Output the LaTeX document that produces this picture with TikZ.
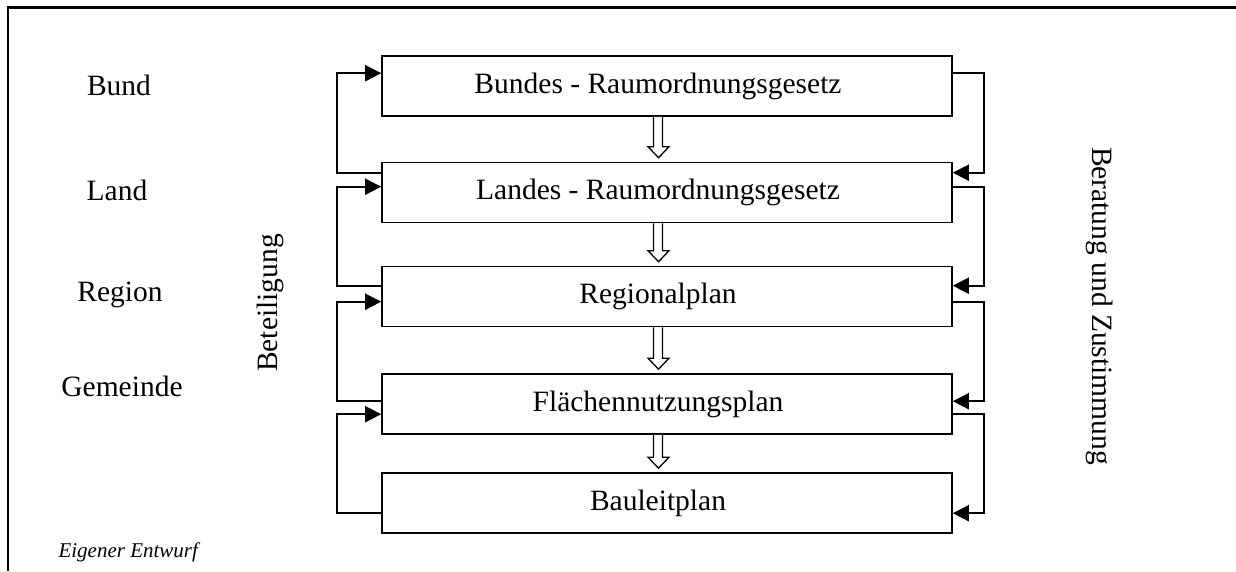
\documentclass[tikz,border=0pt]{standalone}
\usepackage{fontspec}
\setmainfont{Liberation Serif}
\usetikzlibrary{arrows.meta,calc}
\tikzset{
  box/.style={draw,line width=1.6pt,minimum width=570pt,minimum height=60pt,inner sep=0pt,font=\fontsize{29.5}{34}\selectfont,execute at end node={\hspace*{18pt}}},
  lvl/.style={font=\fontsize{29.5}{34}\selectfont},
  conn/.style={line width=1.9pt,-{Triangle[length=16pt,width=16pt]}},
  hollow/.style={line width=1.3pt,fill=white,line join=miter},
  frame/.style={line width=2.8pt}
}
\newcommand\hollowarrow[2]{%
  \draw[hollow] ($(#1.south)+(-13.5,0)$) -- ($(#2.north)+(-13.5,-15)$) -- ($(#2.north)+(-19,-15)$) -- ($(#2.north)+(-8.5,-4)$) -- ($(#2.north)+(2,-15)$) -- ($(#2.north)+(-4.5,-15)$) -- ($(#1.south)+(-4.5,0)$);}
\begin{document}
\begin{tikzpicture}[x=1pt,y=-1pt]
\useasboundingbox (0,0) rectangle (1236,571);
\coordinate (fa) at (8,571);
\coordinate (fb) at (8,7.5);
\coordinate (fc) at (1236,7.5);
\draw[frame] (fa) -- (fb) -- (fc);

\node[box] (b1) at (667,86) {Bundes - Raumordnungsgesetz};
\node[box] (b2) at (667,192.5) {Landes - Raumordnungsgesetz};
\node[box] (b3) at (667,296.5) {Regionalplan};
\node[box] (b4) at (667,404) {Flächennutzungsplan};
\node[box] (b5) at (667,503) {Bauleitplan};

\hollowarrow{b1}{b2}
\hollowarrow{b2}{b3}
\hollowarrow{b3}{b4}
\hollowarrow{b4}{b5}

% left: Beteiligung loops
\draw[conn] ($(b2.north west)+(0,11)$) -- ++(-44,0) |- ($(b1.north west)+(0,18)$);
\draw[conn] ($(b3.north west)+(0,20)$) -- ++(-44,0) |- ($(b2.north west)+(0,25)$);
\draw[conn] ($(b4.north west)+(0,28)$) -- ++(-44,0) |- ($(b3.north west)+(0,36)$);
\draw[conn] ($(b5.north west)+(0,41)$) -- ++(-44,0) |- ($(b4.north west)+(0,41)$);

% right: Beratung und Zustimmung loops
\draw[conn] ($(b1.north east)+(0,18)$) -- ++(31,0) |- ($(b2.north east)+(0,11)$);
\draw[conn] ($(b2.north east)+(0,25)$) -- ++(31,0) |- ($(b3.north east)+(0,20)$);
\draw[conn] ($(b3.north east)+(0,36)$) -- ++(31,0) |- ($(b4.north east)+(0,28)$);
\draw[conn] ($(b4.north east)+(0,41)$) -- ++(31,0) |- ($(b5.north east)+(0,41)$);

\node[lvl] (l1) at (119,85) {Bund};
\node[lvl] (l2) at (117,190) {Land};
\node[lvl] (l3) at (120,295) {Region};
\node[lvl] (l4) at (122,386) {Gemeinde};

\node[lvl,rotate=90] (bet) at (270,303) {Beteiligung};
\node[lvl,rotate=-90] (ber) at (1100,306) {Beratung und Zustimmung};

\node[font=\fontsize{21}{24}\selectfont\itshape,anchor=west] (src) at (55,552) {Eigener Entwurf};
\end{tikzpicture}
\end{document}
